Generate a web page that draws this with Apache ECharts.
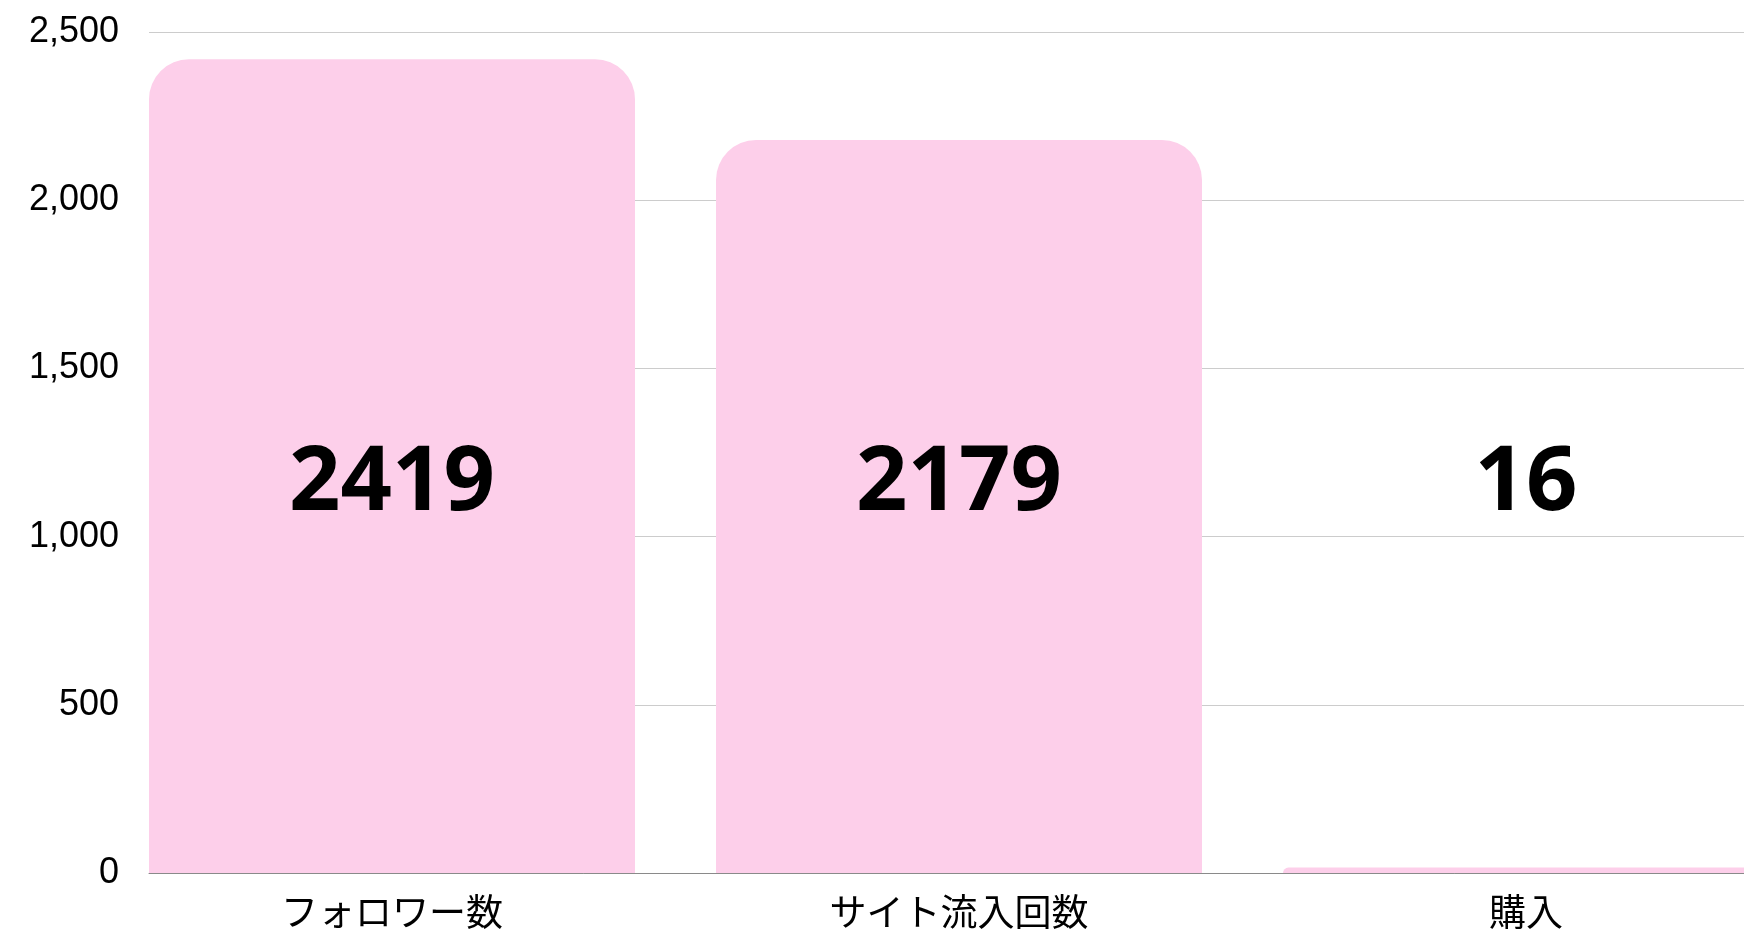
<!DOCTYPE html>
<html>
<head>
<meta charset="utf-8">
<script src="https://cdn.jsdelivr.net/npm/echarts@6/dist/echarts.min.js"></script>
<style>
  html, body { margin: 0; padding: 0; background: #fff; overflow: hidden; }
  #chart { width: 1900px; height: 934px; }
</style>
</head>
<body>
<div id="chart"></div>
<script>
const categories = ['フォロワー数', 'サイト流入回数', '購入']
const values = [2419, 2179, 16]
const yTicks = [0, 500, 1000, 1500, 2000, 2500]

// the reference is cropped on the right, so the chart is wider than the window
const LABEL_Y = 1156
const pink = '#fdcfea'

const chart = echarts.init(document.getElementById('chart'))

const option = {
  backgroundColor: '#ffffff',
  animation: false,
  grid: [
    { left: 149, top: 32, bottom: 61, width: 1740 },
    { left: 108.5, top: 32, bottom: 61, width: 1701 }
  ],
  xAxis: [
    {
      gridIndex: 0, type: 'value', min: 0, max: 1,
      axisLine: { show: true, lineStyle: { color: '#8a8a8a', width: 1 } },
      axisTick: { show: false }, axisLabel: { show: false }, splitLine: { show: false }
    },
    {
      gridIndex: 1, type: 'category', data: categories,
      axisLine: { show: false }, axisTick: { show: false },
      axisLabel: {
        color: '#000', fontSize: 37, margin: 20,
        fontFamily: '"Noto Sans CJK JP", "Noto Sans", sans-serif'
      }
    }
  ],
  yAxis: [
    {
      gridIndex: 0, type: 'value', min: yTicks[0], max: yTicks[yTicks.length - 1], interval: 500,
      axisLine: { show: false }, axisTick: { show: false },
      axisLabel: {
        color: '#000', fontSize: 36, margin: 30,
        fontFamily: '"Liberation Sans", Arial, sans-serif',
        formatter: v => v.toLocaleString('en-US')
      },
      splitLine: { lineStyle: { color: '#cccccc', width: 1 } }
    },
    {
      gridIndex: 1, type: 'value', min: yTicks[0], max: yTicks[yTicks.length - 1],
      show: false
    }
  ],
  series: [
    {
      type: 'bar', xAxisIndex: 1, yAxisIndex: 1,
      data: values, barWidth: 486,
      itemStyle: { color: pink, borderRadius: [40, 40, 0, 0] },
      z: 2
    },
    {
      type: 'scatter', xAxisIndex: 1, yAxisIndex: 1, silent: true,
      symbolSize: 0,
      itemStyle: { opacity: 1 },
      data: values.map((v, i) => ({ value: [i, LABEL_Y], raw: v })),
      label: {
        show: true, position: 'inside',
        formatter: p => String(p.data.raw),
        color: '#000', fontSize: 90, fontWeight: 'bold',
        textBorderWidth: 0,
        fontFamily: '"Open Sans", sans-serif'
      },
      z: 5
    }
  ]
}

chart.setOption(option)
window.addEventListener('resize', () => chart.resize())
</script>
</body>
</html>
